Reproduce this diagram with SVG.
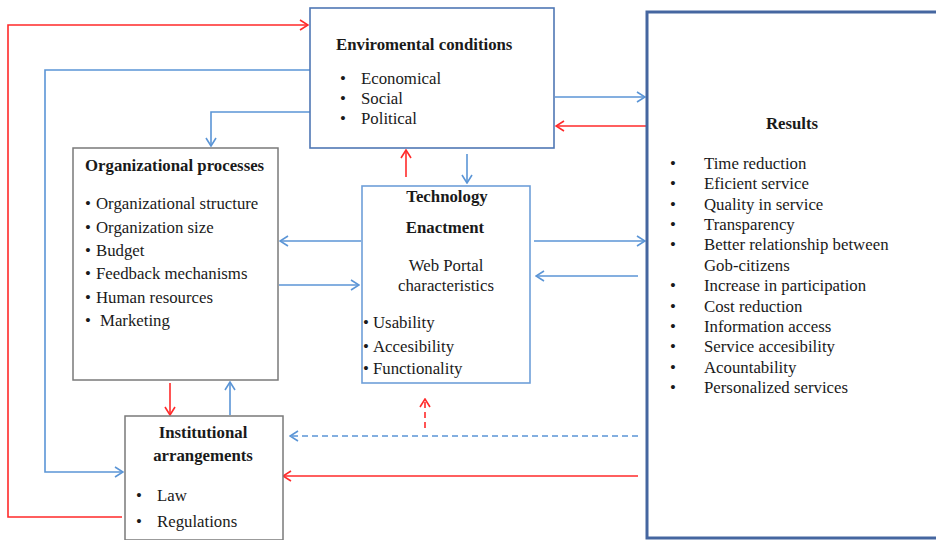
<svg xmlns="http://www.w3.org/2000/svg" width="936" height="540" viewBox="0 0 936 540">
  <defs>
    <style>
      text { font-family: "Liberation Serif", "Times New Roman", serif; font-size: 16.8px; fill: #1a1a1a; }
      .b { font-weight: bold; }
      .m { text-anchor: middle; }
      .box { fill: #ffffff; }
      .grey { stroke: #7a7a7a; stroke-width: 1.5; }
      .blue { fill: none; stroke: #5b95d6; stroke-width: 1.6; }
      .red { fill: none; stroke: #ff2a2a; stroke-width: 1.6; }
      .dash { stroke-dasharray: 6 4; }
      .ahb { marker-end: url(#arrowBlue); }
      .ahr { marker-end: url(#arrowRed); }
    </style>
    <marker id="arrowBlue" viewBox="0 0 10 12" refX="9" refY="6" markerWidth="10" markerHeight="12" markerUnits="userSpaceOnUse" orient="auto">
      <path d="M1,1 L9,6 L1,11" fill="none" stroke="#5b95d6" stroke-width="1.6"/>
    </marker>
    <marker id="arrowRed" viewBox="0 0 10 12" refX="9" refY="6" markerWidth="10" markerHeight="12" markerUnits="userSpaceOnUse" orient="auto">
      <path d="M1,1 L9,6 L1,11" fill="none" stroke="#ff2a2a" stroke-width="1.6"/>
    </marker>
  </defs>

  <rect width="936" height="540" fill="#ffffff"/>

  <!-- connectors -->
  <g id="connectors">
    <polyline class="red ahr" points="122,517 8,517 8,25 308,25"/>
    <polyline class="blue ahb" points="310,70 45,70 45,472 123,472"/>
    <polyline class="blue ahb" points="310,112 211,112 211,146"/>
    <line class="blue ahb" x1="555" y1="97" x2="645" y2="97"/>
    <line class="red ahr" x1="646" y1="126" x2="556" y2="126"/>
    <line class="red ahr" x1="406" y1="177" x2="406" y2="150"/>
    <line class="blue ahb" x1="467" y1="154" x2="467" y2="183"/>
    <line class="blue ahb" x1="361" y1="241" x2="280" y2="241"/>
    <line class="blue ahb" x1="279" y1="285" x2="359" y2="285"/>
    <line class="blue ahb" x1="534" y1="241" x2="645" y2="241"/>
    <line class="blue ahb" x1="638" y1="276" x2="536" y2="276"/>
    <line class="red dash ahr" x1="425" y1="428" x2="425" y2="399"/>
    <line class="blue dash ahb" x1="638" y1="436" x2="290" y2="436"/>
    <line class="red ahr" x1="638" y1="476" x2="283" y2="476"/>
    <line class="red ahr" x1="170" y1="383" x2="170" y2="415"/>
    <line class="blue ahb" x1="230" y1="415" x2="230" y2="382"/>
  </g>

  <!-- environmental conditions -->
  <g id="env">
    <rect class="box" x="310" y="8" width="244" height="140" stroke="#4f77b5" stroke-width="1.6"/>
    <text class="b" x="336" y="50">Enviromental conditions</text>
    <text x="340" y="84">•</text><text x="361" y="84">Economical</text>
    <text x="340" y="104">•</text><text x="361" y="104">Social</text>
    <text x="340" y="124">•</text><text x="361" y="124">Political</text>
  </g>

  <!-- results -->
  <g id="results">
    <rect class="box" x="647" y="12" width="300" height="526" stroke="#4566a0" stroke-width="3"/>
    <text class="b m" x="792" y="129">Results</text>
    <g>
      <text x="670" y="169">•</text><text x="704" y="169">Time reduction</text>
      <text x="670" y="189">•</text><text x="704" y="189">Eficient service</text>
      <text x="670" y="210">•</text><text x="704" y="210">Quality in service</text>
      <text x="670" y="230">•</text><text x="704" y="230">Transparency</text>
      <text x="670" y="250">•</text><text x="704" y="250">Better relationship between</text>
      <text x="704" y="271">Gob-citizens</text>
      <text x="670" y="291">•</text><text x="704" y="291">Increase in participation</text>
      <text x="670" y="312">•</text><text x="704" y="312">Cost reduction</text>
      <text x="670" y="332">•</text><text x="704" y="332">Information access</text>
      <text x="670" y="352">•</text><text x="704" y="352">Service accesibility</text>
      <text x="670" y="373">•</text><text x="704" y="373">Acountability</text>
      <text x="670" y="393">•</text><text x="704" y="393">Personalized services</text>
    </g>
  </g>

  <!-- organizational processes -->
  <g id="org">
    <rect class="box grey" x="73" y="148" width="205" height="232"/>
    <text class="b" x="85" y="171">Organizational processes</text>
    <text x="85" y="209">•</text><text x="96" y="209">Organizational structure</text>
    <text x="85" y="233">•</text><text x="96" y="233">Organization size</text>
    <text x="85" y="256">•</text><text x="96" y="256">Budget</text>
    <text x="85" y="279">•</text><text x="96" y="279">Feedback mechanisms</text>
    <text x="85" y="303">•</text><text x="96" y="303">Human resources</text>
    <text x="85" y="326">•</text><text x="100" y="326">Marketing</text>
  </g>

  <!-- technology enactment -->
  <g id="tech">
    <rect class="box" x="362" y="186" width="168" height="197" stroke="#6e9fd9" stroke-width="1.6"/>
    <text class="b m" x="447" y="202">Technology</text>
    <text class="b m" x="445" y="233">Enactment</text>
    <text class="m" x="446" y="271">Web Portal</text>
    <text class="m" x="446" y="291">characteristics</text>
    <text x="363" y="328">•</text><text x="373" y="328">Usability</text>
    <text x="363" y="352">•</text><text x="373" y="352">Accesibility</text>
    <text x="363" y="374">•</text><text x="373" y="374">Functionality</text>
  </g>

  <!-- institutional arrangements -->
  <g id="inst">
    <rect class="box grey" x="125" y="416" width="158" height="124"/>
    <text class="b m" x="203" y="438">Institutional</text>
    <text class="b m" x="203" y="461">arrangements</text>
    <text x="136" y="501">•</text><text x="157" y="501">Law</text>
    <text x="136" y="527">•</text><text x="157" y="527">Regulations</text>
  </g>
</svg>
